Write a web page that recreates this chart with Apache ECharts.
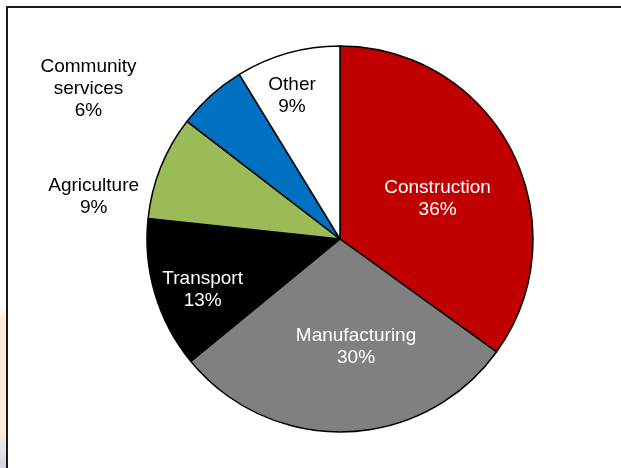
<!DOCTYPE html>
<html>
<head>
<meta charset="utf-8">
<script src="https://cdn.jsdelivr.net/npm/echarts@6/dist/echarts.min.js"></script>
<style>
  html, body { margin: 0; padding: 0; background: #ffffff; }
  #chart { width: 621px; height: 468px; }
</style>
</head>
<body>
<div id="chart"></div>
<script>
// Sector shares (percent)
const sectors = ['Construction', 'Manufacturing', 'Transport', 'Agriculture', 'Community\nservices', 'Other'];
const shares = [36, 30, 13, 9, 6, 9];

// Slice fills and label colours, in sector order
const sliceColors = ['#C00000', '#808080', '#000000', '#9BBB59', '#0070C0', '#FFFFFF'];
const labelColors = ['#FFFFFF', '#FFFFFF', '#FFFFFF', '#000000', '#000000', '#000000'];
// Label nudges from the default inside position, in sector order
const labelOffsets = [[9, 5], [13, 8], [-42, 22], [-154, -5], [-185, -76], [-21, -47]];

const chart = echarts.init(document.getElementById('chart'), null, { renderer: 'canvas' });

const pieData = sectors.map((name, i) => ({
  name: name,
  value: shares[i],
  itemStyle: { color: sliceColors[i] },
  label: { color: labelColors[i], offset: labelOffsets[i] }
}));

chart.setOption({
  animation: false,
  backgroundColor: '#ffffff',
  graphic: [
    {
      type: 'rect',
      silent: true,
      shape: { x: 0, y: 305, width: 6, height: 163 },
      style: {
        fill: new echarts.graphic.LinearGradient(0, 0, 0, 1, [
          { offset: 0, color: 'rgba(253,236,210,0)' },
          { offset: 0.1, color: 'rgba(253,236,210,1)' },
          { offset: 0.78, color: 'rgba(253,238,214,1)' },
          { offset: 0.9, color: 'rgba(226,226,232,1)' },
          { offset: 1, color: 'rgba(214,214,224,1)' }
        ])
      }
    },
    {
      type: 'polyline',
      silent: true,
      shape: { points: [[7, 470], [7, 7], [625, 7]] },
      style: { stroke: '#1a1a1a', lineWidth: 2, fill: null }
    }
  ],
  series: [{
    type: 'pie',
    center: [340, 239],
    radius: [0, 193],
    startAngle: 90,
    clockwise: true,
    avoidLabelOverlap: false,
    silent: true,
    itemStyle: { borderColor: '#000000', borderWidth: 1.5 },
    label: {
      show: true,
      position: 'inside',
      formatter: '{b}\n{c}%',
      fontFamily: '"Liberation Sans", Arial, sans-serif',
      fontSize: 19,
      lineHeight: 22,
      align: 'center'
    },
    labelLine: { show: false },
    labelLayout: { hideOverlap: false },
    emphasis: { disabled: true },
    data: pieData
  }]
});
</script>
</body>
</html>
